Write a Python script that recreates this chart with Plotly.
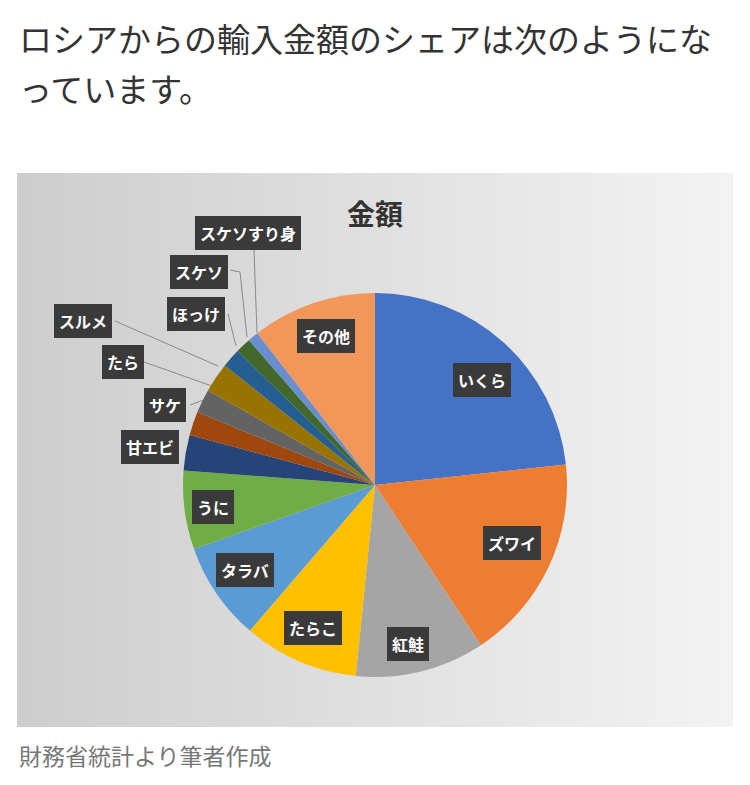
import plotly.graph_objects as go

# share of import value (%), clockwise from 12 o'clock
items = ["いくら", "ズワイ", "紅鮭", "たらこ", "タラバ", "うに", "甘エビ", "サケ",
         "たら", "スルメ", "ほっけ", "スケソ", "スケソすり身", "その他"]
share = [23.3, 17.4, 10.9, 9.7, 8.3, 6.6, 3.0, 2.0, 2.0, 2.5, 1.6, 1.3, 0.9, 10.5]
colors = ["#4472C4", "#ED7D31", "#A5A5A5", "#FFC000", "#5B9BD5", "#70AD47", "#264478",
          "#9E480E", "#636363", "#997300", "#255E91", "#43682B", "#698ED0", "#F1975A"]

# label box centres in page pixels
label_xy = [(482, 380), (512, 543), (408, 644), (313, 628), (245, 570), (213, 507),
            (150, 447), (165, 405), (123, 362), (83, 321), (196, 314), (199, 272),
            (248, 233), (326, 336)]
# leader lines for small slices (page pixels)
leaders = [[(115, 321), (218, 366)], [(144, 362), (212, 386)], [(190, 405), (204, 400)],
           [(228, 314), (236, 346)], [(230, 270), (240, 272), (247, 337)],
           [(254, 250), (257, 333)]]

OFF = 8  # page body margin
W, H = 750 - OFF, 785 - OFF
FONT = "Noto Sans CJK JP"


def px(x):
    return x - OFF


fig = go.Figure()

# chart picture background with gradient
fig.add_trace(go.Scatter(
    x=[px(17), px(733), px(733), px(17), px(17)], y=[px(173), px(173), px(727), px(727), px(173)],
    mode="lines", fill="toself", line=dict(width=0),
    fillgradient=dict(type="horizontal", colorscale=[[0, "#cdcdcd"], [1, "#f3f3f3"]]),
    hoverinfo="skip", showlegend=False))

for pts in leaders:
    fig.add_trace(go.Scatter(x=[px(p[0]) for p in pts], y=[px(p[1]) for p in pts], mode="lines",
                             line=dict(color="#8a8a8a", width=1), hoverinfo="skip",
                             showlegend=False))

fig.add_trace(go.Pie(
    labels=items, values=share, sort=False, direction="clockwise", rotation=0,
    marker=dict(colors=colors, line=dict(width=0)), textinfo="none",
    domain=dict(x=[px(183) / W, px(567) / W], y=[(H - px(677)) / H, (H - px(293)) / H]),
    showlegend=False))

ann = []
for name, (x, y) in zip(items, label_xy):
    ann.append(dict(x=px(x), y=px(y), xref="x", yref="y", text="<b>%s</b>" % name,
                    showarrow=False, font=dict(family=FONT, size=16, color="white"),
                    bgcolor="#3a3a3a", bordercolor="#3a3a3a", borderpad=4))
ann.append(dict(x=px(375), y=px(213), xref="x", yref="y", text="<b>金額</b>", showarrow=False,
                font=dict(family=FONT, size=28, color="#333")))
ann.append(dict(x=px(17), y=px(38), xref="x", yref="y", xanchor="left",
                text="ロシアからの輸入金額のシェアは次のようにな", showarrow=False,
                font=dict(family=FONT, size=33, color="#333")))
ann.append(dict(x=px(17), y=px(88), xref="x", yref="y", xanchor="left", text="っています。",
                showarrow=False, font=dict(family=FONT, size=33, color="#333")))
ann.append(dict(x=px(17), y=px(755), xref="x", yref="y", xanchor="left",
                text="財務省統計より筆者作成", showarrow=False,
                font=dict(family=FONT, size=23, color="#777")))

fig.update_layout(
    width=W, height=H, margin=dict(l=0, r=0, t=0, b=0),
    paper_bgcolor="white", plot_bgcolor="white", annotations=ann,
    xaxis=dict(range=[0, W], visible=False, fixedrange=True),
    yaxis=dict(range=[H, 0], visible=False, fixedrange=True))

fig.write_html("out.html")
